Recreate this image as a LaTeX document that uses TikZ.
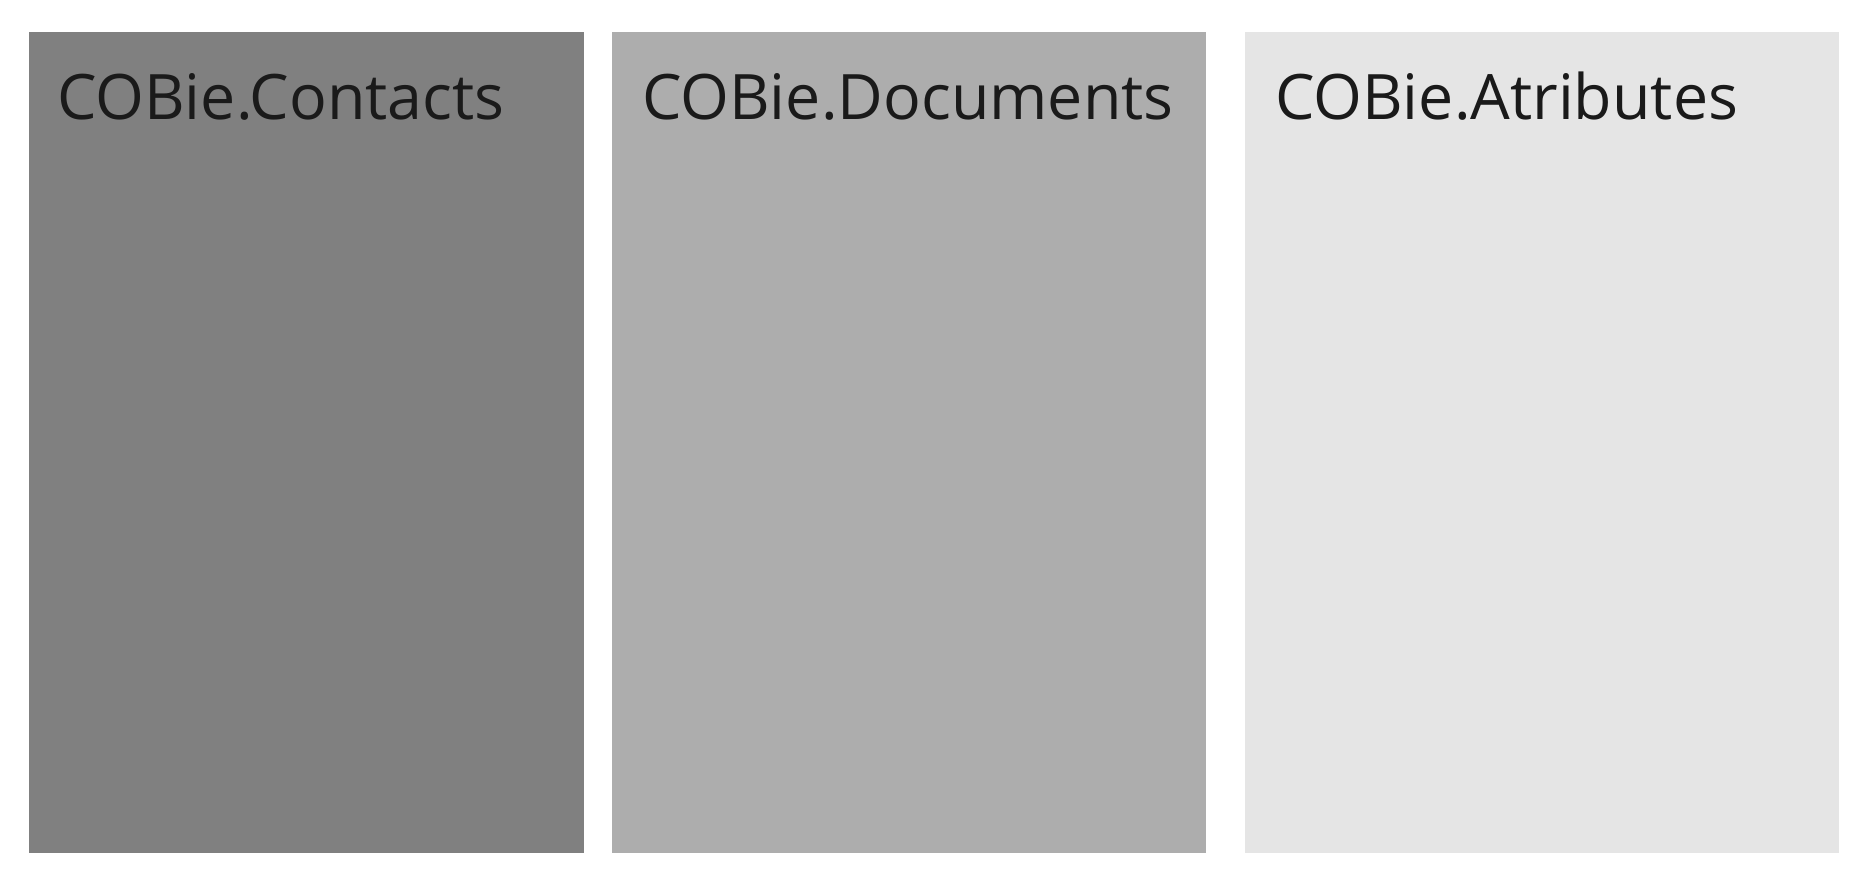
\documentclass[tikz,border=0pt]{standalone}
\usepackage{fontspec}
\setmainfont{Open Sans}
\usetikzlibrary{calc}
\definecolor{gA}{HTML}{808080}
\definecolor{gB}{HTML}{ADADAD}
\definecolor{gC}{HTML}{E5E5E5}
\definecolor{txt}{HTML}{1A1A1A}
\begin{document}
\begin{tikzpicture}[x=1pt,y=-1pt,
  panel/.style={draw=none,rectangle,inner sep=0pt,outer sep=0pt,minimum height=821pt,anchor=north west},
  title/.style={anchor=base west,inner sep=0pt,text=txt,font=\fontsize{62.7}{74}\selectfont}]
\useasboundingbox[fill=white] (0,0) rectangle (1863,877);
\node[panel,fill=gA,minimum width=555.5pt] (c) at (28.5,32) {};
\node[panel,fill=gB,minimum width=594pt] (d) at (612,32) {};
\node[panel,fill=gC,minimum width=594pt] (a) at (1245,32) {};
\node[title] (ct) at ($(c.north west)+(28.5,87.5)$) {COBie.Contacts};
\node[title] (dt) at ($(d.north west)+(30,87.5)$) {COBie.Documents};
\node[title] (at) at ($(a.north west)+(30,87.5)$) {COBie.Atributes};
\end{tikzpicture}
\end{document}
